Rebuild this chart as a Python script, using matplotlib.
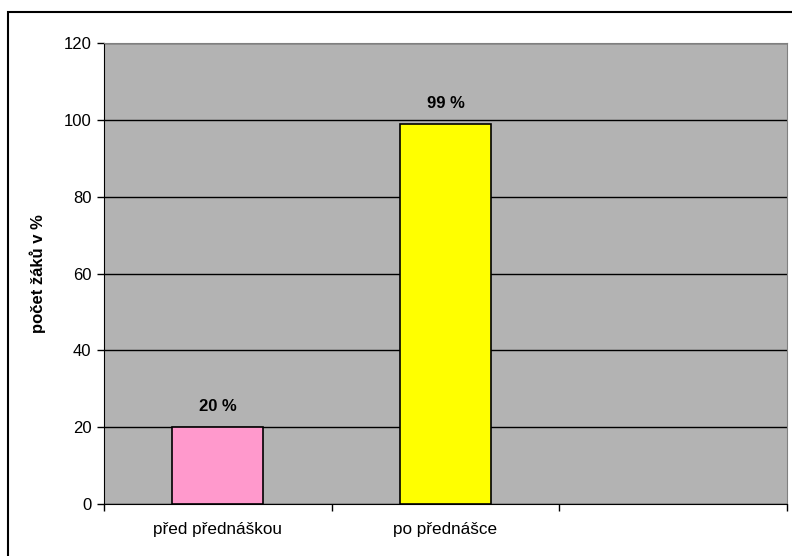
import matplotlib.pyplot as plt
from matplotlib.patches import Rectangle
import numpy as np

plt.rcParams['font.family'] = ['Liberation Sans', 'DejaVu Sans']

# data
categories = ['před přednáškou', 'po přednášce', '']
values = [20, 99, None]
bar_colors = ['#FF99CC', '#FFFF00']
yticks = [0, 20, 40, 60, 80, 100, 120]

W, H = 792, 556
fig = plt.figure(figsize=(W / 100, H / 100), dpi=100)
ax = fig.add_axes([104 / W, 1 - 504 / H, (787 - 104) / W, (504 - 43) / H])
ax.set_facecolor('#B3B3B3')

# outer frame (only top and left visible in the reference)
fig.patches.append(Rectangle((8 / W, -0.2), 1.2, 1 - 12 / H + 0.2, transform=fig.transFigure,
                             fill=False, edgecolor='black', linewidth=1.5))

x = np.arange(len(categories))
for i, v in enumerate(values):
    if v is None:
        continue
    ax.bar(x[i], v, width=0.4, color=bar_colors[i], edgecolor='black', linewidth=1.2, zorder=3)
    ax.text(x[i], v + 3.3, f'{v} %', ha='center', va='bottom', fontsize=12, fontweight='bold', zorder=4)

ax.set_xlim(-0.5, len(categories) - 0.5)
ax.set_ylim(0, 120)
ax.set_yticks(yticks)
ax.yaxis.grid(True, color='black', linewidth=1)
ax.set_axisbelow(True)

ax.set_xticks(x)
ax.set_xticklabels(categories, fontsize=12.3)
ax.tick_params(axis='x', length=0, pad=13)
ax.set_xticks(np.arange(len(categories) + 1) - 0.5, minor=True)
ax.tick_params(axis='x', which='minor', length=5, width=1)
ax.tick_params(axis='y', length=5, width=1, labelsize=12, pad=4)

ax.spines['left'].set_color('black')
ax.spines['bottom'].set_color('black')
ax.spines['top'].set_color('#808080')
ax.spines['right'].set_color('#808080')

ax.set_ylabel('počet žáků v %', fontsize=12, fontweight='bold', labelpad=13)

fig.savefig('out.png', dpi=100)
